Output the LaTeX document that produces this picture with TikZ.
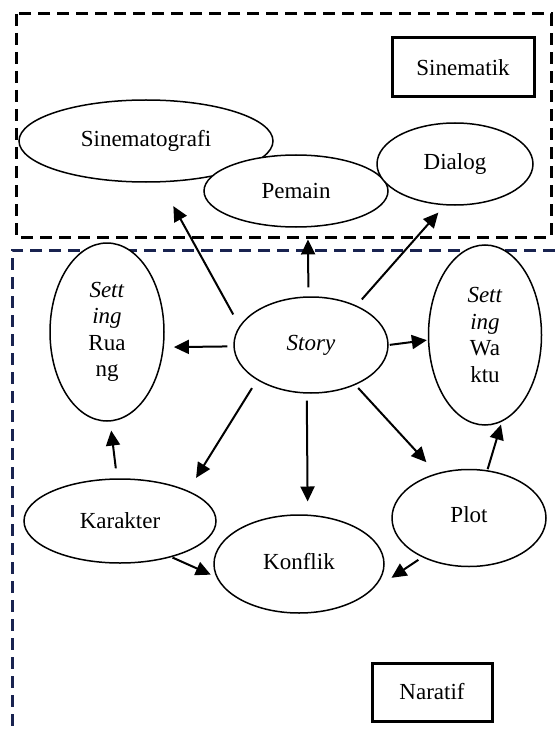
\documentclass[tikz,border=0pt]{standalone}
\usepackage{fontspec}
\setmainfont{Liberation Serif}
\usetikzlibrary{shapes.geometric,arrows.meta}
\definecolor{navy}{RGB}{25,35,80}
\begin{document}
\begin{tikzpicture}[x=1pt,y=-1pt,
  every node/.style={font=\fontsize{23}{26.5}\selectfont},
  ell/.style={draw, fill=white, ellipse, line width=1.5pt, inner sep=0pt, align=center},
  lbl/.style={draw, rectangle, line width=3pt, inner sep=0pt},
  arr/.style={line width=2pt, -{Triangle[length=15pt,width=14pt]}},
  dbox/.style={line width=3pt, dash pattern=on 12pt off 7pt}
]
\useasboundingbox[fill=white] (0,0) rectangle (555,730);
\draw[dbox] (16,14) rectangle (551,237);
\draw[dbox, navy] (555,250) -- (12,250) -- (12,730);

\node[lbl, minimum width=142pt, minimum height=59pt] (sinematik) at (463,67.5) {Sinematik};
\node[lbl, minimum width=120pt, minimum height=58pt] (naratif) at (432,692) {Naratif};
\node[ell, minimum width=254pt, minimum height=82pt] (sinemato) at (146,141) {Sinematografi};
\node[ell, minimum width=184pt, minimum height=72pt] (pemain) at (296,191) {Pemain};
\node[ell, minimum width=156pt, minimum height=82pt] (dialog) at (455,164) {\raisebox{4pt}{Dialog}};
\node[ell, minimum width=114pt, minimum height=178pt] (sruang) at (107,332) {\textit{Sett}\\\textit{ing}\\Rua\\ng};
\node[ell, minimum width=154pt, minimum height=96pt] (story) at (311,345) {\raisebox{4pt}{\textit{Story}}};
\node[ell, minimum width=113pt, minimum height=180pt] (swaktu) at (485,335) {\textit{Sett}\\\textit{ing}\\Wa\\ktu};
\node[ell, minimum width=192pt, minimum height=84pt] (karakter) at (120,521) {Karakter};
\node[ell, minimum width=170pt, minimum height=98pt] (konflik) at (299,564) {\raisebox{6pt}{Konflik}};
\node[ell, minimum width=154pt, minimum height=97pt] (plot) at (469,518) {\raisebox{7pt}{Plot}};

\draw[arr, shorten <=13pt, shorten >=27pt] (story.165) -- (sinemato.289);
\draw[arr, shorten <=9pt, shorten >=12pt] (story.93.6) -- (pemain.288.6);
\draw[arr, shorten <=8pt, shorten >=9.6pt] (story.41.1) -- (dialog.256.8);
\draw[arr, shorten <=6pt, shorten >=10pt] (story.181) -- (sruang.345);
\draw[arr, shorten <=1pt, shorten >=1pt] (story.0) -- (swaktu.185);
\draw[arr, shorten <=9.5pt, shorten >=15pt] (story.213.5) -- (karakter.24.3);
\draw[arr, shorten <=7pt, shorten >=13pt] (story.265) -- (konflik.80.7);
\draw[arr, shorten <=4pt, shorten >=15pt] (story.318.6) -- (plot.126);
\draw[arr, shorten <=10pt, shorten >=9pt] (karakter.94) -- (sruang.272);
\draw[arr, shorten <=1pt, shorten >=6pt] (karakter.325.6) -- (konflik.189.4);
\draw[arr, shorten <=1pt, shorten >=3pt] (plot.69.1) -- (swaktu.281.2);
\draw[arr, shorten <=4.6pt, shorten >=28pt] (plot.220.9) -- (konflik.337.3);
\end{tikzpicture}
\end{document}
